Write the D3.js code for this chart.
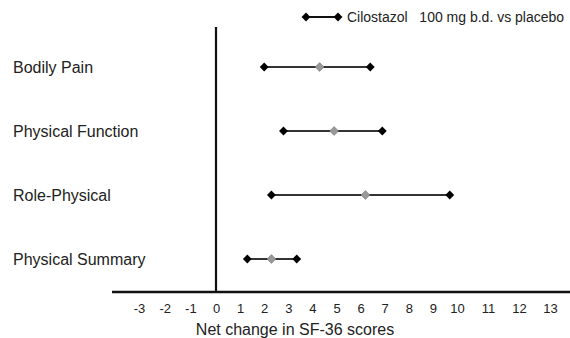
<!DOCTYPE html>
<html>
<head>
<meta charset="utf-8">
<script src="https://cdn.jsdelivr.net/npm/d3@7"></script>
<style>
  body { margin: 0; background: #fff; }
  svg { display: block; font-family: "Liberation Sans", Arial, sans-serif; }
</style>
</head>
<body>
<div id="chart"></div>
<script>
// Outcome categories, top to bottom
const categories = ['Bodily Pain', 'Physical Function', 'Role-Physical', 'Physical Summary'];
// Net change estimates with lower / upper limits
const lower = [2.0, 2.8, 2.3, 1.3];
const estimate = [4.3, 4.9, 6.2, 2.3];
const upper = [6.4, 6.9, 9.7, 3.35];
const tickValues = [-3, -2, -1, 0, 1, 2, 3, 4, 5, 6, 7, 8, 9, 10, 11, 12, 13];
const legendLabel = 'Cilostazol   100 mg b.d. vs placebo';
const xTitle = 'Net change in SF-36 scores';

const width = 570, height = 338;

const svg = d3.select('#chart')
    .append('svg')
    .attr('width', width)
    .attr('height', height);

// the printed axis is not evenly spaced, so use a piecewise scale
const x = d3.scaleLinear()
    .domain([-3, 0, 10, 13])
    .range([139, 216, 457, 550]);

const y = d3.scalePoint()
    .domain(categories)
    .range([67, 259]);

const axisY = 292;

// Horizontal axis line
svg.append('line')
    .attr('x1', 112).attr('x2', width)
    .attr('y1', axisY).attr('y2', axisY)
    .attr('stroke', '#111')
    .attr('stroke-width', 2.5);

// Tick labels (no tick marks)
const axis = d3.axisBottom(x)
    .tickValues(tickValues)
    .tickSize(0)
    .tickPadding(0)
    .tickFormat(d => d);

const gx = svg.append('g')
    .attr('transform', `translate(0,${axisY + 12})`)
    .call(axis);
gx.select('.domain').remove();
gx.selectAll('text')
    .attr('dy', '0.71em')
    .attr('fill', '#222')
    .style('font-size', '13px')
    .style('font-family', '"Liberation Sans", Arial, sans-serif');

// Zero line
svg.append('line')
    .attr('x1', x(0)).attr('x2', x(0))
    .attr('y1', 27).attr('y2', axisY)
    .attr('stroke', '#111')
    .attr('stroke-width', 2.2);

// Axis title
svg.append('text')
    .attr('x', 295)
    .attr('y', 335)
    .attr('text-anchor', 'middle')
    .attr('fill', '#222')
    .style('font-size', '16px')
    .text(xTitle);

// Category labels
svg.selectAll('.cat')
    .data(categories)
    .enter()
    .append('text')
    .attr('class', 'cat')
    .attr('x', 13)
    .attr('y', d => y(d))
    .attr('dy', '0.35em')
    .attr('fill', '#222')
    .style('font-size', '16px')
    .text(d => d);

const diamond = d3.symbol().type(d3.symbolDiamond2).size(50);

const rows = categories.map((c, i) => ({ cat: c, lo: lower[i], est: estimate[i], hi: upper[i] }));

// Interval lines
svg.selectAll('.ci')
    .data(rows)
    .enter()
    .append('line')
    .attr('x1', d => x(d.lo))
    .attr('x2', d => x(d.hi))
    .attr('y1', d => y(d.cat))
    .attr('y2', d => y(d.cat))
    .attr('stroke', '#333')
    .attr('stroke-width', 2);

// End diamonds and estimate marker
rows.forEach(d => {
    [d.lo, d.hi].forEach(v => {
        svg.append('path')
            .attr('d', diamond)
            .attr('transform', `translate(${x(v)},${y(d.cat)})`)
            .attr('fill', '#000');
    });
    svg.append('path')
        .attr('d', diamond)
        .attr('transform', `translate(${x(d.est)},${y(d.cat)})`)
        .attr('fill', '#999')
        .attr('stroke', '#777')
        .attr('stroke-width', 0.6);
});

// Legend
const ly = 17;
svg.append('line')
    .attr('x1', 306).attr('x2', 338)
    .attr('y1', ly).attr('y2', ly)
    .attr('stroke', '#111')
    .attr('stroke-width', 2);
[306, 338].forEach(px => {
    svg.append('path')
        .attr('d', diamond)
        .attr('transform', `translate(${px},${ly})`)
        .attr('fill', '#000');
});
svg.append('text')
    .attr('x', 347)
    .attr('y', ly)
    .attr('dy', '0.35em')
    .attr('fill', '#222')
    .style('font-size', '14px')
    .style('white-space', 'pre')
    .attr('xml:space', 'preserve')
    .text(legendLabel);
</script>
</body>
</html>
